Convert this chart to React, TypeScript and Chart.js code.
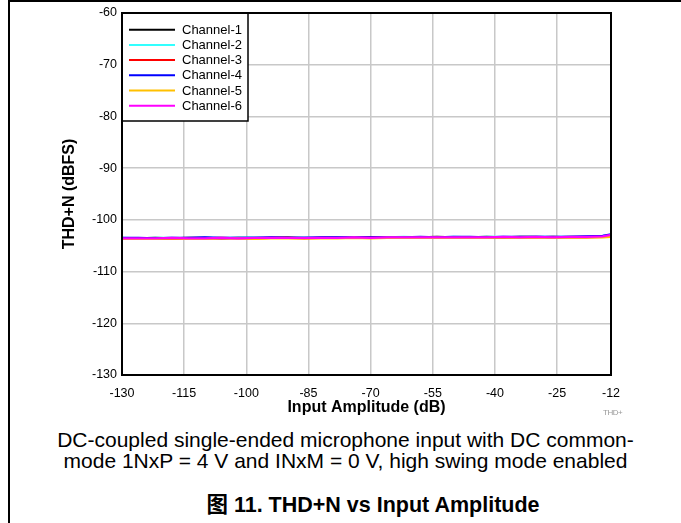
import React, { useEffect, useRef } from "react";
import { Chart, registerables } from "chart.js";

Chart.register(...registerables);

const xValues = [-130, -126, -122, -118, -114, -110, -106, -102, -98, -94, -90, -86, -82, -78, -74, -70, -66, -62, -58, -54, -50, -46, -42, -38, -34, -30, -26, -22, -18, -14, -12];

const xTicks = [-130, -115, -100, -85, -70, -55, -40, -25, -12];
const yTicks = [-130, -120, -110, -100, -90, -80, -70, -60];

const channelLabels = ["Channel-1", "Channel-2", "Channel-3", "Channel-4", "Channel-5", "Channel-6"];
const channelColors = ["#000000", "#33ffff", "#ff0000", "#0000ff", "#ffc000", "#ff00ff"];

const channel1 = [-103.6, -103.6, -103.5, -103.6, -103.5, -103.5, -103.6, -103.5, -103.5, -103.5, -103.4, -103.5, -103.5, -103.4, -103.5, -103.4, -103.4, -103.4, -103.4, -103.3, -103.4, -103.4, -103.3, -103.4, -103.3, -103.3, -103.4, -103.3, -103.3, -103.2, -103.0];
const channel2 = [-103.5, -103.6, -103.5, -103.5, -103.6, -103.5, -103.5, -103.5, -103.4, -103.5, -103.5, -103.4, -103.5, -103.4, -103.4, -103.5, -103.4, -103.3, -103.4, -103.4, -103.3, -103.4, -103.3, -103.3, -103.4, -103.3, -103.3, -103.3, -103.3, -103.1, -102.9];
const channel3 = [-103.7, -103.6, -103.6, -103.7, -103.6, -103.6, -103.5, -103.6, -103.6, -103.5, -103.5, -103.6, -103.5, -103.5, -103.5, -103.4, -103.5, -103.5, -103.4, -103.4, -103.5, -103.4, -103.4, -103.4, -103.4, -103.4, -103.3, -103.4, -103.4, -103.3, -103.2];
const channel4 = [-103.5, -103.5, -103.6, -103.5, -103.5, -103.4, -103.5, -103.5, -103.5, -103.4, -103.5, -103.5, -103.4, -103.4, -103.4, -103.4, -103.4, -103.4, -103.3, -103.4, -103.3, -103.3, -103.4, -103.3, -103.3, -103.3, -103.3, -103.3, -103.2, -103.1, -102.8];
const channel5 = [-103.7, -103.7, -103.7, -103.6, -103.7, -103.7, -103.6, -103.6, -103.7, -103.6, -103.6, -103.6, -103.6, -103.6, -103.5, -103.6, -103.5, -103.5, -103.5, -103.5, -103.5, -103.5, -103.5, -103.4, -103.5, -103.4, -103.5, -103.4, -103.4, -103.4, -103.3];
const channel6 = [-103.6, -103.6, -103.6, -103.5, -103.6, -103.6, -103.5, -103.6, -103.5, -103.5, -103.5, -103.5, -103.5, -103.5, -103.4, -103.5, -103.4, -103.4, -103.4, -103.4, -103.4, -103.4, -103.4, -103.3, -103.4, -103.3, -103.4, -103.3, -103.3, -103.2, -102.9];

const channelValues = [channel1, channel2, channel3, channel4, channel5, channel6];

const FONT = "'Liberation Sans', Arial, Helvetica, sans-serif";

const frameAndLegend = {
  id: "frameAndLegend",
  afterDatasetsDraw(chart: any) {
    const { ctx, chartArea } = chart;
    const { left, top, right, bottom } = chartArea;
    ctx.save();
    const bw = 126;
    const bh = 108;
    ctx.fillStyle = "#ffffff";
    ctx.fillRect(left, top, bw, bh);
    ctx.strokeStyle = "#000000";
    ctx.lineWidth = 1.5;
    ctx.strokeRect(left, top, bw, bh);
    ctx.font = `13px ${FONT}`;
    ctx.textBaseline = "middle";
    ctx.textAlign = "left";
    chart.data.datasets.forEach((ds: any, i: number) => {
      const y = top + 16.7 + i * 15.2;
      ctx.strokeStyle = ds.borderColor;
      ctx.lineWidth = 2;
      ctx.beginPath();
      ctx.moveTo(left + 7, y);
      ctx.lineTo(left + 53, y);
      ctx.stroke();
      ctx.fillStyle = "#000000";
      ctx.fillText(ds.label, left + 60, y + 0.5);
    });
    ctx.strokeStyle = "#000000";
    ctx.lineWidth = 2;
    ctx.strokeRect(left, top, right - left, bottom - top);
    ctx.restore();
  },
};

export default function App() {
  const canvasRef = useRef<HTMLCanvasElement | null>(null);

  useEffect(() => {
    if (!canvasRef.current) return;
    const n = channelValues.length;
    const chart = new Chart(canvasRef.current, {
      type: "line",
      data: {
        datasets: channelValues.map((vals, i) => ({
          label: channelLabels[i],
          data: xValues.map((x, j) => ({ x, y: vals[j] })),
          borderColor: channelColors[i],
          backgroundColor: channelColors[i],
          borderWidth: 2.2,
          pointRadius: 0,
          tension: 0,
          fill: false,
          order: n - 1 - i,
        })),
      },
      options: {
        animation: false,
        responsive: false,
        maintainAspectRatio: false,
        devicePixelRatio: 1,
        layout: { padding: { left: 60, right: 70, top: 13, bottom: 3 } },
        plugins: {
          legend: { display: false },
          tooltip: { enabled: false },
        },
        scales: {
          x: {
            type: "linear",
            min: -130,
            max: -12,
            afterBuildTicks: (scale: any) => {
              scale.ticks = xTicks.map((v) => ({ value: v }));
            },
            afterFit: (scale: any) => {
              scale.height = 42;
            },
            ticks: {
              autoSkip: false,
              maxRotation: 0,
              padding: 11,
              color: "#000000",
              font: { family: FONT, size: 12.5 },
              callback: (v: any) => String(v),
            },
            grid: { color: "#c8c8c8", lineWidth: 1.5, drawTicks: false },
            border: { display: false },
            title: {
              display: true,
              text: "Input Amplitude (dB)",
              color: "#000000",
              font: { family: FONT, size: 16, weight: "bold" },
              padding: 0,
            },
          },
          y: {
            type: "linear",
            min: -130,
            max: -60,
            afterBuildTicks: (scale: any) => {
              scale.ticks = yTicks.map((v) => ({ value: v }));
            },
            afterFit: (scale: any) => {
              scale.width = 62;
            },
            ticks: {
              padding: 5,
              color: "#000000",
              font: { family: FONT, size: 12.5 },
              callback: (v: any) => String(v),
            },
            grid: { color: "#c8c8c8", lineWidth: 1.5, drawTicks: false },
            border: { display: false },
            title: {
              display: true,
              text: "THD+N (dBFS)",
              color: "#000000",
              font: { family: FONT, size: 16, weight: "bold" },
              padding: 0,
            },
          },
        },
      },
      plugins: [frameAndLegend],
    });
    return () => chart.destroy();
  }, []);

  return (
    <div style={{ position: "fixed", left: 0, top: 0, width: 681, height: 523, background: "#ffffff", overflow: "hidden", fontFamily: FONT }}>
      <div style={{ position: "absolute", left: 8, top: 0, width: 673, height: 523, borderTop: "2px solid #000", borderLeft: "2px solid #000", boxSizing: "border-box" }} />
      <canvas ref={canvasRef} width={681} height={420} style={{ position: "absolute", left: 0, top: 0, width: 681, height: 420 }} />
      <div style={{ position: "absolute", left: 603, top: 408, fontSize: 8, color: "#9a9a9a", letterSpacing: -0.5 }}>THD+</div>
      <div style={{ position: "absolute", left: 8, width: 675, top: 429, fontSize: 21, lineHeight: "21px", textAlign: "center", color: "#000", whiteSpace: "nowrap" }}>
        DC-coupled single-ended microphone input with DC common-
        <br />
        mode 1NxP = 4 V and INxM = 0 V, high swing mode enabled
      </div>
      <div style={{ position: "absolute", left: 0, width: 746, top: 493, fontSize: 21.5, lineHeight: "24px", textAlign: "center", fontWeight: "bold", color: "#000", whiteSpace: "nowrap", fontFamily: "'Liberation Sans', Arial, 'Noto Sans CJK SC', sans-serif" }}>
        图 11. THD+N vs Input Amplitude
      </div>
    </div>
  );
}
